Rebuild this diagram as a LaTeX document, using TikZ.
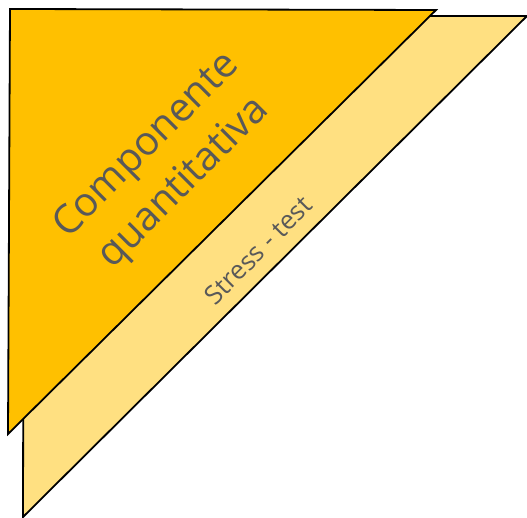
\documentclass[tikz,border=0pt]{standalone}
\usepackage{fontspec}
\setmainfont{Open Sans}
\definecolor{frontcol}{HTML}{FFC000}
\definecolor{backcol}{HTML}{FFE081}
\definecolor{textcol}{HTML}{595959}
\tikzset{
  tri/.style={draw=black, line width=1.8pt, line join=miter},
  lab/.style={text=textcol, rotate=45, align=center}
}
\begin{document}
\begin{tikzpicture}[x=1pt,y=1pt]
\useasboundingbox (0,0) rectangle (527,517);

% BACK TRIANGLE
\coordinate (b1) at (24,501);
\coordinate (b2) at (527,501);
\coordinate (b3) at (23,0);
\draw[tri, fill=backcol] (b1) -- (b2) -- (b3) -- cycle;

% FRONT TRIANGLE
\coordinate (f1) at (10,508);
\coordinate (f2) at (436,507);
\coordinate (f3) at (8,83);
\draw[tri, fill=frontcol] (f1) -- (f2) -- (f3) -- cycle;

% LABELS
\node[lab, font=\fontsize{40}{53}\selectfont] (quant) at (166,352) {Componente\\quantitativa};
\node[lab, font=\fontsize{26}{30}\selectfont] (stress) at (258,267) {Stress - test};

\end{tikzpicture}
\end{document}
